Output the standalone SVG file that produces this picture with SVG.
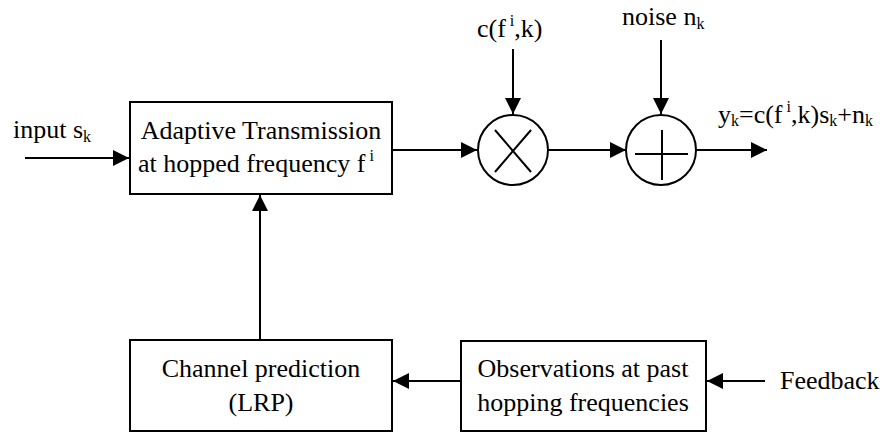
<svg xmlns="http://www.w3.org/2000/svg" width="887" height="433" viewBox="0 0 887 433">
<style>
text{font-family:"Liberation Serif","Times New Roman",serif;font-size:26px;fill:#000}
.box{fill:#fff;stroke:#000;stroke-width:2}
.ln{fill:none;stroke:#000;stroke-width:2}
.sub{font-size:16px}
</style>
<defs>
<marker id="ah" markerUnits="userSpaceOnUse" markerWidth="16" markerHeight="16" refX="16" refY="8" orient="auto">
<path d="M0,0 L16,8 L0,16 Z" fill="#000"/>
</marker>
</defs>
<g id="connectors">
<line class="ln" x1="25" y1="158" x2="129" y2="158" marker-end="url(#ah)"/>
<line class="ln" x1="392" y1="150" x2="477" y2="150" marker-end="url(#ah)"/>
<line class="ln" x1="513" y1="49" x2="513" y2="114" marker-end="url(#ah)"/>
<line class="ln" x1="548" y1="150" x2="626" y2="150" marker-end="url(#ah)"/>
<line class="ln" x1="661" y1="40" x2="661" y2="114" marker-end="url(#ah)"/>
<line class="ln" x1="696" y1="150" x2="767" y2="150" marker-end="url(#ah)"/>
<line class="ln" x1="260" y1="340" x2="260" y2="195" marker-end="url(#ah)"/>
<line class="ln" x1="461" y1="381" x2="393" y2="381" marker-end="url(#ah)"/>
<line class="ln" x1="765" y1="381" x2="707" y2="381" marker-end="url(#ah)"/>
</g>
<g id="input-label">
<text x="13" y="138">input s<tspan class="sub" dy="4">k</tspan></text>
</g>
<g id="adaptive-tx">
<rect class="box" x="130" y="102" width="262" height="92"/>
<text x="261" y="139" text-anchor="middle">Adaptive Transmission</text>
<text x="138" y="172">at hopped frequency f<tspan class="sub" dx="4" dy="-11">i</tspan></text>
</g>
<g id="multiplier">
<circle cx="513" cy="150" r="35" fill="#fff" stroke="#000" stroke-width="2"/>
<line class="ln" x1="495" y1="130" x2="531" y2="172"/>
<line class="ln" x1="531" y1="130" x2="495" y2="172"/>
<text x="477" y="37">c(f<tspan class="sub" dx="4" dy="-11">i</tspan><tspan dy="11">,k)</tspan></text>
</g>
<g id="adder">
<circle cx="661" cy="150" r="35" fill="#fff" stroke="#000" stroke-width="2"/>
<line class="ln" x1="635" y1="154" x2="688" y2="154"/>
<line class="ln" x1="662" y1="130" x2="662" y2="180"/>
<text x="622" y="25">noise n<tspan class="sub" dy="4">k</tspan></text>
</g>
<g id="output-label">
<text x="718" y="123">y<tspan class="sub" dy="3">k</tspan><tspan dy="-3">=c(f</tspan><tspan class="sub" dx="4" dy="-11">i</tspan><tspan dy="11">,k)s</tspan><tspan class="sub" dy="3">k</tspan><tspan dy="-3">+n</tspan><tspan class="sub" dy="3">k</tspan></text>
</g>
<g id="channel-prediction">
<rect class="box" x="130" y="340" width="262" height="91"/>
<text x="261" y="377" text-anchor="middle">Channel prediction</text>
<text x="261" y="411" text-anchor="middle">(LRP)</text>
</g>
<g id="observations">
<rect class="box" x="461" y="341" width="245" height="90"/>
<text x="583" y="377" text-anchor="middle">Observations at past</text>
<text x="583" y="411" text-anchor="middle">hopping frequencies</text>
</g>
<g id="feedback-label">
<text x="780" y="389">Feedback</text>
</g>
</svg>
